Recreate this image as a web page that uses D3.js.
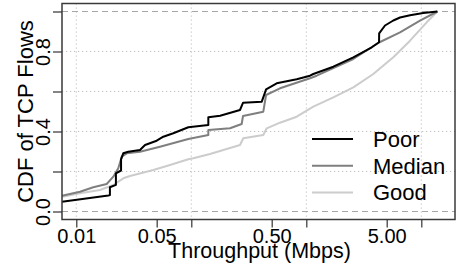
<!DOCTYPE html>
<html>
<head>
<meta charset="utf-8">
<script src="https://cdn.jsdelivr.net/npm/d3@7"></script>
<style>
  html, body { margin: 0; padding: 0; background: #ffffff; }
  svg { display: block; font-family: "Liberation Sans", Arial, Helvetica, sans-serif; }
</style>
</head>
<body>
<svg id="chart" width="468" height="267"></svg>
<script>
// ---------- data ----------
const seriesNames = ["Poor", "Median", "Good"];
const seriesColors = ["#000000", "#7f7f7f", "#cccccc"];

const throughputPoor = [0.00751, 0.019, 0.0196, 0.0196, 0.0221, 0.0221, 0.0245, 0.0245, 0.0256, 0.0283, 0.0358, 0.0396, 0.050, 0.0571, 0.0697, 0.0942, 0.1406, 0.1406, 0.178, 0.265, 0.282, 0.41, 0.447, 0.553, 0.825, 1.077, 1.151, 1.718, 2.563, 3.707, 4.29, 4.30, 4.835, 5.708, 6.53, 7.977, 10.4, 13.8];
const cdfPoor        = [0.049, 0.080, 0.082, 0.121, 0.133, 0.191, 0.205, 0.261, 0.291, 0.299, 0.3075, 0.3325, 0.354, 0.374, 0.391, 0.421, 0.4325, 0.471, 0.479, 0.5075, 0.544, 0.549, 0.611, 0.641, 0.661, 0.679, 0.6875, 0.724, 0.771, 0.821, 0.846, 0.891, 0.930, 0.955, 0.970, 0.981, 0.992, 1.0];

const throughputMedian = [0.00751, 0.01077, 0.01405, 0.01838, 0.02098, 0.02318, 0.02482, 0.02744, 0.03581, 0.05343, 0.0942, 0.1406, 0.1406, 0.2171, 0.2742, 0.2816, 0.4227, 0.4467, 0.5906, 1.077, 1.231, 1.718, 2.563, 4.29, 6.528, 9.743, 13.8];
const cdfMedian        = [0.079, 0.099, 0.121, 0.1375, 0.174, 0.216, 0.274, 0.291, 0.299, 0.324, 0.3625, 0.3825, 0.4075, 0.416, 0.4375, 0.4775, 0.499, 0.5825, 0.616, 0.666, 0.679, 0.7175, 0.7625, 0.845, 0.896, 0.954, 1.0];

const throughputGood = [0.00751, 0.01077, 0.01607, 0.02098, 0.02563, 0.02931, 0.04673, 0.06528, 0.0942, 0.1041, 0.1454, 0.2652, 0.2832, 0.4227, 0.4526, 0.5906, 0.8252, 1.151, 1.718, 2.563, 3.824, 5.708, 7.977, 11.14, 13.8];
const cdfGood        = [0.074, 0.091, 0.1075, 0.1325, 0.166, 0.1775, 0.2075, 0.2325, 0.261, 0.266, 0.2875, 0.3325, 0.366, 0.3825, 0.416, 0.444, 0.474, 0.524, 0.571, 0.621, 0.6875, 0.771, 0.854, 0.946, 1.0];

const xTickValues = [0.01, 0.05, 0.1, 0.5, 1, 5, 10];
const xTickLabels = ["0.01", "0.05", "", "0.50", "", "5.00", ""];
const xGridValues = [0.01, 0.1, 1, 10];
const yTickValues = [0, 0.2, 0.4, 0.6, 0.8, 1.0];
const yTickLabels = ["0.0", "", "0.4", "", "0.8", ""];
const yGridValues = [0.2, 0.4, 0.6, 0.8];
const yDashedValues = [0, 1];

const xTitle = "Throughput (Mbps)";
const yTitle = "CDF of TCP Flows";

// ---------- layout ----------
const plotLeft = 62, plotRight = 455, plotTop = 3.5, plotBottom = 219.5;
const xDomain = [0.00751, 19.63];
const yDomain = [-0.04, 1.04];

const svg = d3.select("#chart");
svg.append("rect").attr("width", 468).attr("height", 267).attr("fill", "#ffffff");

const x = d3.scaleLog().domain(xDomain).range([plotLeft, plotRight]);
const y = d3.scaleLinear().domain(yDomain).range([plotBottom, plotTop]);

// grid
const grid = svg.append("g");
grid.selectAll("line.vg").data(xGridValues).join("line")
  .attr("x1", d => x(d)).attr("x2", d => x(d))
  .attr("y1", plotTop).attr("y2", plotBottom)
  .attr("stroke", "#bdbdbd").attr("stroke-width", 1).attr("stroke-dasharray", "1.2,2.8");
grid.selectAll("line.hg").data(yGridValues).join("line")
  .attr("x1", plotLeft).attr("x2", plotRight)
  .attr("y1", d => y(d)).attr("y2", d => y(d))
  .attr("stroke", "#bdbdbd").attr("stroke-width", 1).attr("stroke-dasharray", "1.2,2.8");
grid.selectAll("line.hd").data(yDashedValues).join("line")
  .attr("x1", plotLeft).attr("x2", plotRight)
  .attr("y1", d => y(d)).attr("y2", d => y(d))
  .attr("stroke", "#a8a8a8").attr("stroke-width", 1.2).attr("stroke-dasharray", "6,4");

// curves
const series = [
  { name: seriesNames[0], xs: throughputPoor, ys: cdfPoor, color: seriesColors[0] },
  { name: seriesNames[1], xs: throughputMedian, ys: cdfMedian, color: seriesColors[1] },
  { name: seriesNames[2], xs: throughputGood, ys: cdfGood, color: seriesColors[2] }
];
const line = d3.line().x(d => x(d[0])).y(d => y(d[1]));
svg.append("g").selectAll("path").data(series.slice().reverse()).join("path")
  .attr("d", s => line(s.xs.map((v, i) => [v, s.ys[i]])))
  .attr("fill", "none")
  .attr("stroke", s => s.color)
  .attr("stroke-width", 2)
  .attr("stroke-linejoin", "round");

// box
svg.append("rect")
  .attr("x", plotLeft).attr("y", plotTop).attr("width", plotRight - plotLeft).attr("height", plotBottom - plotTop)
  .attr("fill", "none").attr("stroke", "#3a3a3a").attr("stroke-width", 1.5);

// x axis
const xAxis = d3.axisBottom(x).tickValues(xTickValues)
  .tickFormat((d, i) => xTickLabels[i]).tickSize(8).tickSizeOuter(0);
const gx = svg.append("g").attr("transform", `translate(0,${plotBottom})`).call(xAxis);
gx.select(".domain").remove();
gx.selectAll(".tick line").attr("stroke", "#333").attr("stroke-width", 1.2);
gx.selectAll(".tick text")
  .attr("y", 23.2).attr("dy", null)
  .attr("fill", "#000").attr("font-size", 20)
  .attr("font-family", '"Liberation Sans", Arial, Helvetica, sans-serif');

// y axis
const yAxis = d3.axisLeft(y).tickValues(yTickValues)
  .tickFormat((d, i) => yTickLabels[i]).tickSize(9).tickSizeOuter(0);
const gy = svg.append("g").attr("transform", `translate(${plotLeft},0)`).call(yAxis);
gy.select(".domain").remove();
gy.selectAll(".tick line").attr("stroke", "#333").attr("stroke-width", 1.2);
gy.selectAll(".tick text")
  .attr("x", null).attr("y", null).attr("dy", null)
  .attr("transform", "translate(-12,0) rotate(-90)")
  .attr("text-anchor", "middle")
  .attr("fill", "#000").attr("font-size", 20)
  .attr("font-family", '"Liberation Sans", Arial, Helvetica, sans-serif');

// titles
svg.append("text")
  .attr("x", (plotLeft + plotRight) / 2 + 1).attr("y", 258)
  .attr("text-anchor", "middle").attr("font-size", 21.5).attr("fill", "#000")
  .text(xTitle);
svg.append("text")
  .attr("transform", `translate(33,${(plotTop + plotBottom) / 2}) rotate(-90)`)
  .attr("text-anchor", "middle").attr("font-size", 22).attr("fill", "#000")
  .text(yTitle);

// legend
const legendY = [139, 165.8, 192.6];
const legend = svg.append("g");
const items = legend.selectAll("g").data(series).join("g")
  .attr("transform", (d, i) => `translate(0,${legendY[i]})`);
items.append("line")
  .attr("x1", 312).attr("x2", 353).attr("y1", 0).attr("y2", 0)
  .attr("stroke", d => d.color).attr("stroke-width", 2);
items.append("text")
  .attr("x", 373).attr("y", 7.7)
  .attr("font-size", 22).attr("fill", "#000")
  .text(d => d.name);
</script>
</body>
</html>
